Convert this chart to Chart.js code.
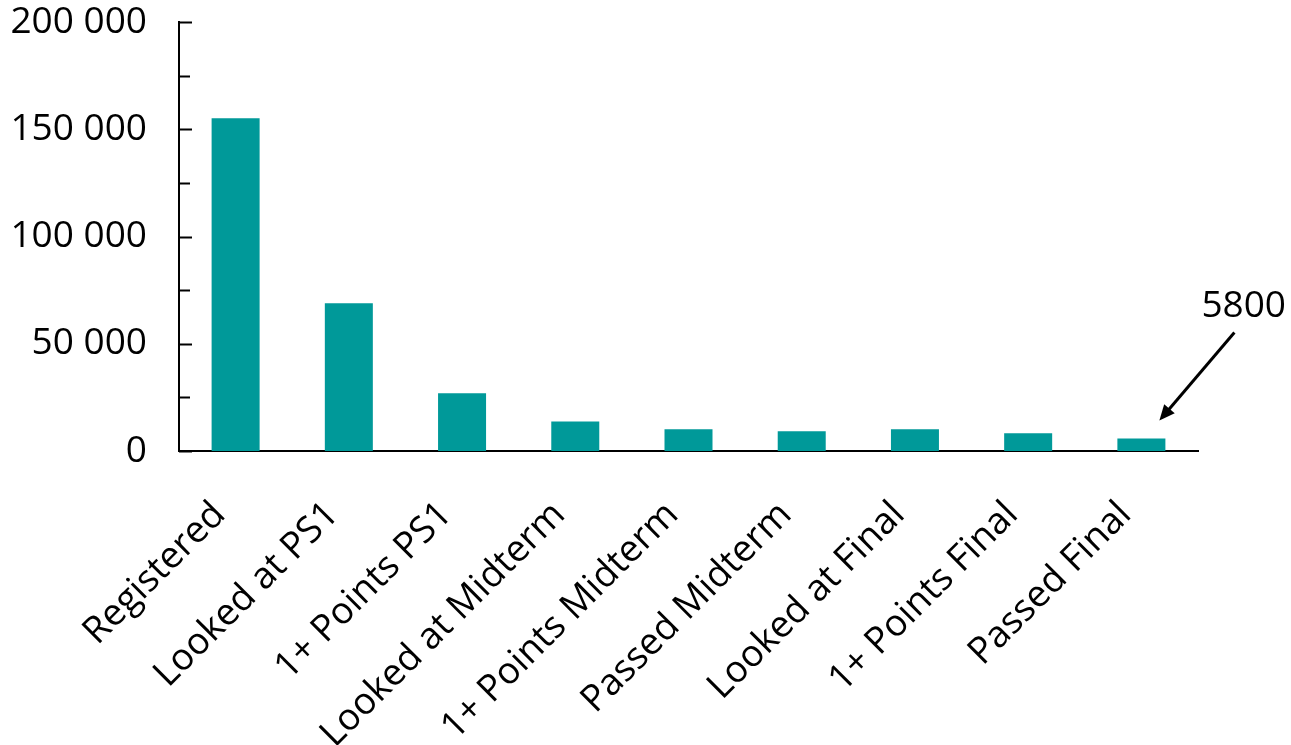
<!DOCTYPE html>
<html>
<head>
<meta charset="utf-8">
<script src="https://cdn.jsdelivr.net/npm/chart.js@4/dist/chart.umd.min.js"></script>
<style>
  html, body { margin: 0; padding: 0; background: #fff; }
  canvas { display: block; }
</style>
</head>
<body>
<canvas id="funnel" width="1291" height="745"></canvas>
<script>
// categories and counts
const stages = ['Registered', 'Looked at PS1', '1+ Points PS1', 'Looked at Midterm', '1+ Points Midterm',
                'Passed Midterm', 'Looked at Final', '1+ Points Final', 'Passed Final'];
const students = [155100, 68900, 26900, 13800, 10100, 9200, 10100, 8300, 5800];
const yTicks = [0, 50000, 100000, 150000, 200000];
const calloutIndex = 8; // bar with the "5800" arrow

const TEAL = '#009999';

// tick marks pointing into the plot, like the original
const inwardTicks = {
    id: 'inwardTicks',
    afterDraw(chart) {
        const y = chart.scales.y;
        const ctx = chart.ctx;
        ctx.save();
        ctx.strokeStyle = '#000';
        ctx.lineWidth = 2;
        y.ticks.forEach(t => {
            const py = Math.round(y.getPixelForValue(t.value)) + 0.5;
            const len = yTicks.includes(t.value) ? 13 : 11;
            ctx.beginPath();
            ctx.moveTo(y.right, py);
            ctx.lineTo(y.right + len, py);
            ctx.stroke();
        });
        ctx.restore();
    }
};

// arrow + number pointing at the last bar
const callout = {
    id: 'callout',
    afterDraw(chart) {
        const bar = chart.getDatasetMeta(0).data[calloutIndex];
        if (!bar) return;
        const ctx = chart.ctx;
        const x0 = bar.x + 93, y0 = bar.y - 106;
        const x1 = bar.x + 18, y1 = bar.y - 18;
        const ang = Math.atan2(y1 - y0, x1 - x0);
        const head = 17, spread = 0.42;

        ctx.save();
        ctx.strokeStyle = '#000';
        ctx.fillStyle = '#000';
        ctx.lineWidth = 3;
        ctx.beginPath();
        ctx.moveTo(x0, y0);
        ctx.lineTo(x1 - Math.cos(ang) * head * 0.8, y1 - Math.sin(ang) * head * 0.8);
        ctx.stroke();
        ctx.beginPath();
        ctx.moveTo(x1, y1);
        ctx.lineTo(x1 - head * Math.cos(ang - spread), y1 - head * Math.sin(ang - spread));
        ctx.lineTo(x1 - head * Math.cos(ang + spread), y1 - head * Math.sin(ang + spread));
        ctx.closePath();
        ctx.fill();

        ctx.font = "37px 'Open Sans', sans-serif";
        ctx.textAlign = 'left';
        ctx.textBaseline = 'alphabetic';
        ctx.fillText(String(students[calloutIndex]), bar.x + 60, bar.y - 122);
        ctx.restore();
    }
};

Chart.defaults.font.family = "'Open Sans', sans-serif";
Chart.defaults.font.size = 37;
Chart.defaults.color = '#000';

new Chart(document.getElementById('funnel'), {
    type: 'bar',
    data: {
        labels: stages,
        datasets: [{
            data: students,
            backgroundColor: TEAL,
            borderWidth: 0,
            barPercentage: 0.424,
            categoryPercentage: 1
        }]
    },
    options: {
        responsive: false,
        animation: false,
        layout: { padding: { top: 22, right: 93, left: 0, bottom: 0 } },
        plugins: {
            legend: { display: false },
            tooltip: { enabled: false }
        },
        scales: {
            x: {
                grid: { display: false, drawTicks: false },
                border: { color: '#000', width: 2 },
                ticks: {
                    minRotation: 45,
                    maxRotation: 45,
                    autoSkip: false,
                    padding: 42,
                    labelOffset: -16
                },
                afterFit: s => { s.height = 294; s.paddingLeft = 0; s.paddingRight = 0; }
            },
            y: {
                min: 0,
                max: 200000,
                grid: { display: false, drawTicks: false },
                border: { color: '#000', width: 2 },
                ticks: {
                    stepSize: 25000,
                    padding: 32,
                    callback: v => yTicks.includes(v) ? v.toLocaleString('en-US').replace(/,/g, ' ') : ''
                },
                afterFit: s => { s.width = 179; s.paddingTop = 0; s.paddingBottom = 0; }
            }
        }
    },
    plugins: [inwardTicks, callout]
});
</script>
</body>
</html>
